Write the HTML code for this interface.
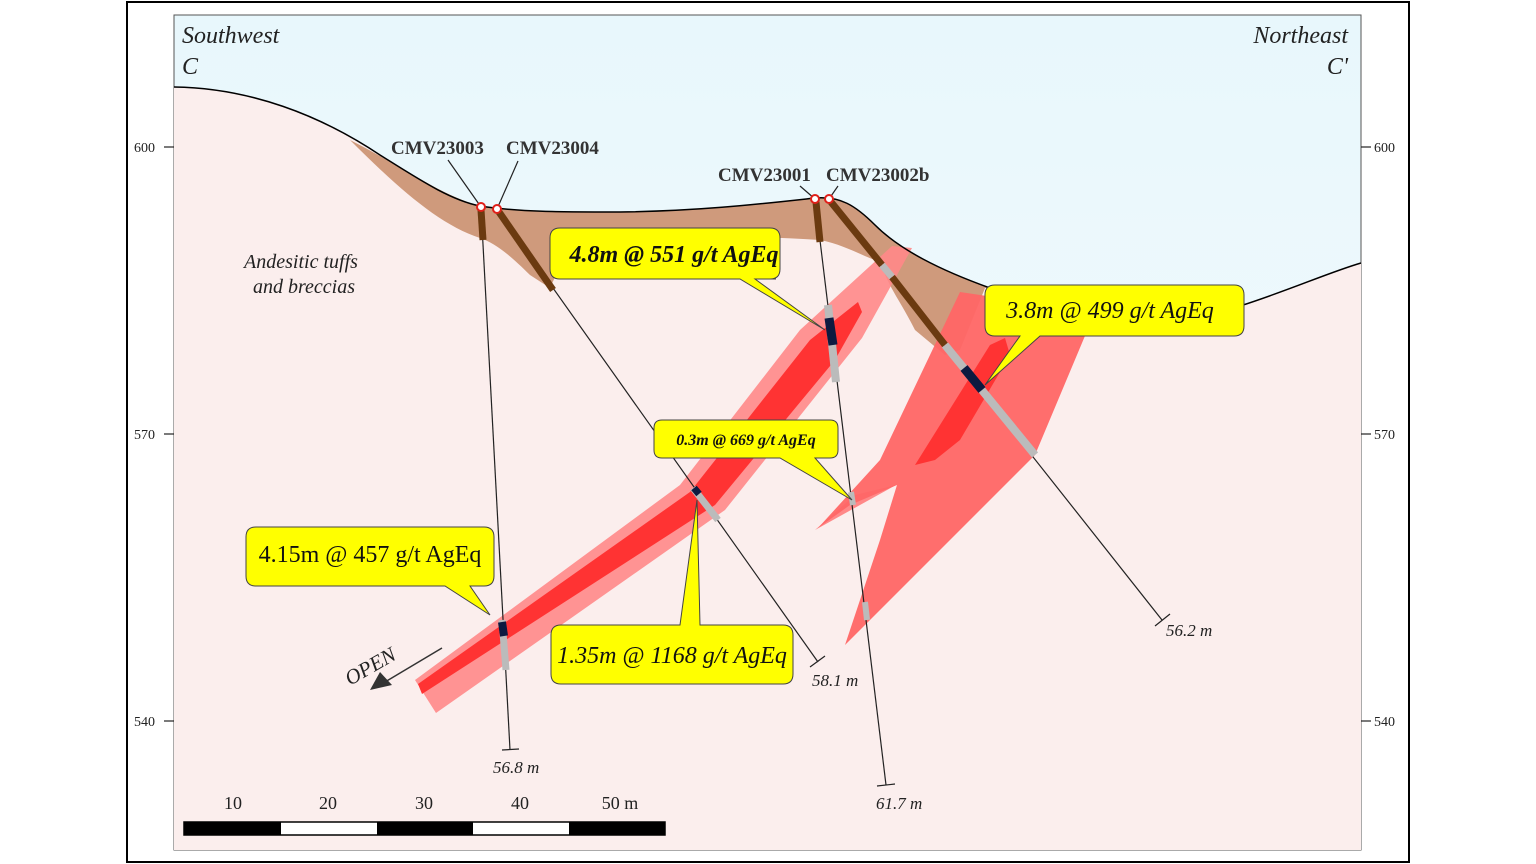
<!DOCTYPE html>
<html><head><meta charset="utf-8"><style>
html,body{margin:0;padding:0;background:#fff;width:1536px;height:864px;overflow:hidden}
svg{display:block}
text{font-family:"Liberation Serif",serif}
</style></head><body>
<svg width="1536" height="864" viewBox="0 0 1536 864" xmlns="http://www.w3.org/2000/svg">
<defs>
<linearGradient id="sky" x1="0" y1="0" x2="0" y2="1"><stop offset="0" stop-color="#e8f7fc"/><stop offset="1" stop-color="#f6fcfe"/></linearGradient>
</defs>
<rect x="127" y="2" width="1282" height="860" fill="#fff" stroke="#000" stroke-width="2"/>
<rect x="174" y="15" width="1187" height="835" fill="url(#sky)" stroke="#555" stroke-width="1"/>
<path d="M174,87 C250,88 320,115 380,155 C420,180 450,200 480,206 C520,212 560,212 620,212 C700,211 760,204 815,198 C840,196 855,205 875,225 C900,250 940,270 990,288 C1060,305 1120,306 1240,306 C1290,290 1330,272 1361,263 L1361,850 L174,850 Z" fill="#fbeeed"/>
<path d="M350,140 C400,165 440,195 480,206 C520,212 560,212 620,212 C700,211 760,204 815,198 C840,196 855,205 875,225 C900,250 940,270 990,288 L985,288 L960,350 L945,355 L915,330 C900,300 890,290 880,262 C860,255 845,245 820,240 C760,236 700,236 640,237 C600,238 570,240 550,288 L530,275 C510,255 495,243 480,238 C440,225 400,190 350,140 Z" fill="#cf9a7c"/>
<!-- west vein -->
<path d="M415,680 L680,485 L800,330 L892,246 L912,248 L862,338 L725,510 L436,713 Z" fill="#f88" opacity="0.9"/>
<path d="M418,684 L690,492 L810,340 L858,302 L862,312 L835,360 L715,505 L422,694 Z" fill="#f33"/>
<path d="M815,530 L855,495 L896,485 Z" fill="#f88"/>
<!-- east vein -->
<path d="M960,292 L1095,312 L1035,455 L845,645 L880,540 L897,485 L850,505 L818,528 L880,460 Z" fill="#f66" opacity="0.95"/>
<path d="M915,465 L990,345 L1005,338 L1010,355 L960,440 L935,460 Z" fill="#f33"/>
<path d="M174,87 C250,88 320,115 380,155 C420,180 450,200 480,206 C520,212 560,212 620,212 C700,211 760,204 815,198 C840,196 855,205 875,225 C900,250 940,270 990,288 C1060,305 1120,306 1240,306 C1290,290 1330,272 1361,263" fill="none" stroke="#000" stroke-width="1.5"/>
<g stroke="#222" stroke-width="1.2">
<line x1="481" y1="207" x2="510" y2="750"/><line x1="502" y1="750" x2="519" y2="749"/>
<line x1="497" y1="209" x2="818" y2="662"/><line x1="810" y1="667" x2="825" y2="656"/>
<line x1="815" y1="199" x2="886" y2="785"/><line x1="877" y1="786" x2="895" y2="784"/>
<line x1="829" y1="199" x2="1162" y2="620"/><line x1="1155" y1="626" x2="1170" y2="614"/>
</g>
<g stroke-linecap="butt">
<line x1="481" y1="210" x2="483" y2="240" stroke="#6b3a10" stroke-width="7"/>
<line x1="499" y1="212" x2="553" y2="290" stroke="#6b3a10" stroke-width="7"/>
<line x1="816" y1="202" x2="820" y2="242" stroke="#6b3a10" stroke-width="7"/>
<line x1="831" y1="202" x2="882" y2="265" stroke="#6b3a10" stroke-width="7"/>
<line x1="892" y1="277" x2="945" y2="345" stroke="#6b3a10" stroke-width="7"/>
<line x1="882" y1="265" x2="892" y2="277" stroke="#bbb" stroke-width="7"/>
<line x1="945" y1="345" x2="1035" y2="455" stroke="#bbb" stroke-width="8"/>
<line x1="964" y1="368" x2="982" y2="390" stroke="#0d1a40" stroke-width="9"/>
<line x1="828" y1="305" x2="836" y2="382" stroke="#bbb" stroke-width="8"/>
<line x1="829" y1="318" x2="833" y2="345" stroke="#0d1a40" stroke-width="9"/>
<line x1="693" y1="488" x2="718" y2="520" stroke="#bbb" stroke-width="7"/>
<line x1="694" y1="488" x2="699" y2="494" stroke="#0d1a40" stroke-width="7"/>
<line x1="502" y1="620" x2="506" y2="670" stroke="#bbb" stroke-width="7"/>
<line x1="502" y1="622" x2="504" y2="636" stroke="#0d1a40" stroke-width="8"/>
<line x1="851" y1="492" x2="853" y2="505" stroke="#bbb" stroke-width="6"/>
<line x1="865" y1="602" x2="867" y2="620" stroke="#bbb" stroke-width="6"/>
</g>
<g stroke="#222" stroke-width="1.2"><line x1="481" y1="207" x2="448" y2="160"/><line x1="497" y1="209" x2="518" y2="161"/><line x1="815" y1="199" x2="800" y2="186"/><line x1="829" y1="199" x2="838" y2="186"/></g>
<g fill="#fff" stroke="#e0201a" stroke-width="2"><circle cx="481" cy="207" r="4"/><circle cx="497" cy="209" r="4"/><circle cx="815" cy="199" r="4"/><circle cx="829" cy="199" r="4"/></g>
<g font-size="19" font-weight="bold" fill="#333"><text x="391" y="154">CMV23003</text><text x="506" y="154">CMV23004</text><text x="718" y="181">CMV23001</text><text x="826" y="181">CMV23002b</text></g>
<g font-size="17" font-style="italic" fill="#222"><text x="493" y="773">56.8 m</text><text x="812" y="686">58.1 m</text><text x="876" y="809">61.7 m</text><text x="1166" y="636">56.2 m</text></g>
<g fill="#ffff00" stroke="#444" stroke-width="1">
<path d="M256,527 H484 Q494,527 494,537 V576 Q494,586 484,586 H470 L490,615 L445,586 H256 Q246,586 246,576 V537 Q246,527 256,527 Z"/>
<path d="M561,625 H680 L697,500 L700,625 H783 Q793,625 793,635 V674 Q793,684 783,684 H561 Q551,684 551,674 V635 Q551,625 561,625 Z"/>
<path d="M560,228 H770 Q780,228 780,238 V269 Q780,279 770,279 H776 L775,279 H755 L825,330 L740,279 H560 Q550,279 550,269 V238 Q550,228 560,228 Z"/>
<path d="M662,420 H830 Q838,420 838,428 V450 Q838,458 830,458 H815 L852,500 L780,458 H662 Q654,458 654,450 V428 Q654,420 662,420 Z"/>
<path d="M995,285 H1234 Q1244,285 1244,295 V326 Q1244,336 1234,336 H1040 L985,385 L1020,336 H995 Q985,336 985,326 V295 Q985,285 995,285 Z"/>
</g>
<g fill="#111">
<text x="370" y="562" font-size="24" text-anchor="middle">4.15m @ 457 g/t AgEq</text>
<text x="672" y="663" font-size="24" font-style="italic" text-anchor="middle">1.35m @ 1168 g/t AgEq</text>
<text x="674" y="262" font-size="24" font-style="italic" font-weight="bold" text-anchor="middle">4.8m @ 551 g/t AgEq</text>
<text x="746" y="445" font-size="16" font-style="italic" font-weight="bold" text-anchor="middle">0.3m @ 669 g/t AgEq</text>
<text x="1110" y="318" font-size="24" font-style="italic" text-anchor="middle">3.8m @ 499 g/t AgEq</text>
</g>
<line x1="442" y1="648" x2="385" y2="682" stroke="#333" stroke-width="1.5"/>
<path d="M370,690 L380,672 L392,685 Z" fill="#333"/>
<text x="0" y="0" font-size="21" font-style="italic" fill="#222" transform="translate(350,686) rotate(-30)">OPEN</text>
<g font-size="24" font-style="italic" fill="#222">
<text x="182" y="43">Southwest</text><text x="182" y="74">C</text>
<text x="1348" y="43" text-anchor="end">Northeast</text><text x="1348" y="74" text-anchor="end">C'</text>
</g>
<g font-size="20" font-style="italic" fill="#222" text-anchor="middle"><text x="301" y="268">Andesitic tuffs</text><text x="304" y="293">and breccias</text></g>
<g stroke="#222" stroke-width="1.2"><line x1="164" y1="147" x2="174" y2="147"/><line x1="164" y1="434" x2="174" y2="434"/><line x1="164" y1="721" x2="174" y2="721"/><line x1="1361" y1="147" x2="1371" y2="147"/><line x1="1361" y1="434" x2="1371" y2="434"/><line x1="1361" y1="721" x2="1371" y2="721"/></g>
<g font-size="14" fill="#222" style="font-family:'Liberation Sans',sans-serif"><text x="134" y="152">600</text><text x="134" y="439">570</text><text x="134" y="726">540</text><text x="1374" y="152">600</text><text x="1374" y="439">570</text><text x="1374" y="726">540</text></g>
<rect x="184" y="822" width="481" height="13" fill="#fff" stroke="#000" stroke-width="1.5"/>
<rect x="184" y="822" width="97" height="13" fill="#000"/><rect x="377" y="822" width="96" height="13" fill="#000"/><rect x="569" y="822" width="96" height="13" fill="#000"/>
<g font-size="18" fill="#222" text-anchor="middle"><text x="233" y="809">10</text><text x="328" y="809">20</text><text x="424" y="809">30</text><text x="520" y="809">40</text><text x="620" y="809">50 m</text></g>
</svg>
</body></html>
